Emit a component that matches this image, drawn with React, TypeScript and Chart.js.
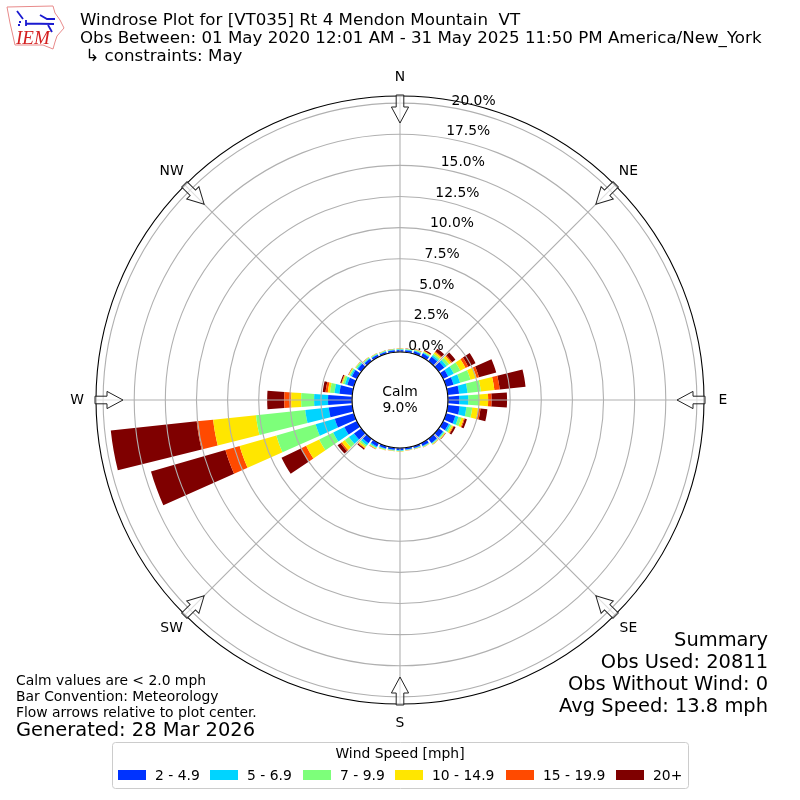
import React, { useEffect, useRef } from "react";
import { Chart, registerables } from "chart.js";

Chart.register(...registerables);

const compass = ["N", "NE", "E", "SE", "S", "SW", "W", "NW"];
const sectorDegrees = [0, 10, 20, 30, 40, 50, 60, 70, 80, 90, 100, 110, 120, 130, 140, 150, 160, 170, 180, 190, 200, 210, 220, 230, 240, 250, 260, 270, 280, 290, 300, 310, 320, 330, 340, 350];
const seriesNames = ["2 - 4.9", "5 - 6.9", "7 - 9.9", "10 - 14.9", "15 - 19.9", "20+"];
const seriesColors = ["#0033ff", "#00d4ff", "#7dff7a", "#ffe600", "#ff4a00", "#7f0000"];
const s2to5 = [0.16, 0.17, 0.22, 0.3, 0.45, 0.55, 0.46, 0.62, 0.92, 0.91, 0.96, 0.77, 0.5, 0.42, 0.42, 0.26, 0.16, 0.15, 0.17, 0.16, 0.2, 0.3, 0.45, 0.72, 1.12, 1.6, 1.9, 1.93, 1.04, 0.55, 0.45, 0.35, 0.24, 0.2, 0.17, 0.16];
const s5to7 = [0.05, 0.05, 0.06, 0.08, 0.15, 0.22, 0.49, 0.55, 0.68, 0.72, 0.55, 0.26, 0.14, 0.08, 0.05, 0.05, 0.04, 0.03, 0.05, 0.04, 0.06, 0.1, 0.2, 0.5, 1.0, 1.6, 1.9, 1.12, 0.4, 0.2, 0.12, 0.09, 0.06, 0.05, 0.05, 0.04];
const s7to10 = [0.04, 0.04, 0.05, 0.07, 0.15, 0.25, 0.58, 0.87, 1.08, 0.88, 0.47, 0.25, 0.14, 0.08, 0.05, 0.04, 0.03, 0.03, 0.04, 0.04, 0.05, 0.06, 0.15, 0.4, 1.25, 3.28, 3.98, 1.04, 0.36, 0.17, 0.1, 0.1, 0.06, 0.05, 0.04, 0.04];
const s10to15 = [0.03, 0.03, 0.05, 0.06, 0.14, 0.2, 0.47, 0.51, 1.09, 0.72, 0.47, 0.2, 0.12, 0.06, 0.05, 0.03, 0.03, 0.02, 0.03, 0.03, 0.04, 0.06, 0.12, 0.3, 1.17, 3.07, 3.46, 0.8, 0.18, 0.08, 0.06, 0.04, 0.04, 0.03, 0.02, 0.02];
const s15to20 = [0.01, 0.01, 0.02, 0.03, 0.08, 0.1, 0.24, 0.2, 0.43, 0.27, 0.2, 0.08, 0.06, 0.03, 0.02, 0.01, 0.01, 0.01, 0.01, 0.01, 0.01, 0.02, 0.06, 0.13, 0.43, 1.19, 1.33, 0.56, 0.18, 0.05, 0.02, 0.01, 0.01, 0.01, 0.01, 0.01];
const s20plus = [0.01, 0.02, 0.02, 0.1, 0.28, 0.33, 0.66, 1.44, 2.09, 1.25, 0.56, 0.18, 0.16, 0.03, 0.01, 0.01, 0.01, 0.01, 0, 0, 0.01, 0.02, 0.1, 0.3, 1.77, 6.22, 6.94, 1.37, 0.23, 0.09, 0.03, 0.01, 0.01, 0.01, 0.01, 0.01];
const allSeries = [s2to5, s5to7, s7to10, s10to15, s15to20, s20plus];
const tickValues = [0, 2.5, 5, 7.5, 10, 12.5, 15, 17.5, 20];
const titleLines = [
  "Windrose Plot for [VT035] Rt 4 Mendon Mountain  VT",
  "Obs Between: 01 May 2020 12:01 AM - 31 May 2025 11:50 PM America/New_York",
  " ↳ constraints: May",
];
const noteLines = ["Calm values are < 2.0 mph", "Bar Convention: Meteorology", "Flow arrows relative to plot center."];
const generated = "Generated: 28 Mar 2026";
const summaryLines = ["Summary", "Obs Used: 20811", "Obs Without Wind: 0", "Avg Speed: 13.8 mph"];
const calmLines = ["Calm", "9.0%"];
const legendTitle = "Wind Speed [mph]";

const FONT = '"DejaVu Sans"';
const SMALL = 13.89;
const TITLE = 16.67;
const LARGE = 19.44;

const stackPlugin = {
  id: "stackSectors",
  afterDatasetsUpdate(chart: any) {
    const scale = chart.scales.r;
    const base = scale.getIndexAngle(0) - Math.PI / 2;
    const half = (4 * Math.PI) / 180;
    const running = sectorDegrees.map(() => 0);
    allSeries.forEach((values, d) => {
      const arcs = chart.getDatasetMeta(d).data;
      values.forEach((v, i) => {
        const mid = base + (sectorDegrees[i] * Math.PI) / 180;
        const arc = arcs[i];
        arc.innerRadius = scale.getDistanceFromCenterForValue(running[i]);
        running[i] += v;
        arc.outerRadius = scale.getDistanceFromCenterForValue(running[i]);
        arc.startAngle = mid - half;
        arc.endAngle = mid + half;
        arc.circumference = half * 2;
      });
    });
  },
};

function text(ctx: any, s: string, x: number, y: number, size: number, align = "left", color = "#000") {
  ctx.font = `${size}px ${FONT}`;
  ctx.textAlign = align;
  ctx.textBaseline = "alphabetic";
  ctx.fillStyle = color;
  ctx.fillText(s, x, y);
}

function drawLogo(ctx: any) {
  ctx.save();
  ctx.strokeStyle = "#e88a8a";
  ctx.lineWidth = 1;
  ctx.beginPath();
  const outline = [[7, 7], [53, 6], [55, 13], [60, 20], [64, 28], [57, 36], [55, 42], [53, 49], [43, 45], [15, 45], [13, 36], [10, 23]];
  outline.forEach(([x, y], i) => (i ? ctx.lineTo(x, y) : ctx.moveTo(x, y)));
  ctx.closePath();
  ctx.stroke();
  ctx.strokeStyle = "#1a1ad0";
  ctx.lineWidth = 1.8;
  ctx.beginPath();
  ctx.moveTo(26, 23.5);
  ctx.lineTo(54, 24);
  ctx.moveTo(26, 20);
  ctx.lineTo(26, 26);
  ctx.moveTo(40, 15);
  ctx.lineTo(47, 19);
  ctx.lineTo(55, 19);
  ctx.moveTo(17, 11);
  ctx.lineTo(23, 19);
  ctx.moveTo(48, 25);
  ctx.lineTo(52, 32);
  ctx.stroke();
  ctx.fillStyle = "#1a1ad0";
  ctx.fillRect(19, 21, 2, 2);
  ctx.fillRect(18, 24, 2, 2);
  ctx.restore();
  ctx.font = 'italic 19px "Liberation Serif"';
  ctx.textAlign = "left";
  ctx.textBaseline = "alphabetic";
  ctx.fillStyle = "#d42020";
  ctx.fillText("IEM", 16, 44);
}

const decoPlugin = {
  id: "windroseDecor",
  afterDraw(chart: any) {
    const { ctx } = chart;
    const scale = chart.scales.r;
    const cx = scale.xCenter;
    const cy = scale.yCenter;
    const outer = scale.drawingArea;
    const inner = scale.getDistanceFromCenterForValue(0);
    ctx.save();

    ctx.beginPath();
    ctx.arc(cx, cy, outer, 0, Math.PI * 2);
    ctx.strokeStyle = "#000";
    ctx.lineWidth = 1.1;
    ctx.stroke();

    ctx.beginPath();
    ctx.arc(cx, cy, inner, 0, Math.PI * 2);
    ctx.fillStyle = "#fff";
    ctx.fill();
    ctx.strokeStyle = "#000";
    ctx.lineWidth = 1.1;
    ctx.stroke();

    text(ctx, calmLines[0], cx, cy - 4, SMALL, "center");
    text(ctx, calmLines[1], cx, cy + 12, SMALL, "center");

    compass.forEach((name, i) => {
      const a = scale.getIndexAngle(i);
      ctx.save();
      ctx.translate(cx, cy);
      ctx.rotate(a);
      ctx.beginPath();
      const pts = [[-3.8, -305], [3.8, -305], [3.8, -293], [8.6, -293], [0, -277], [-8.6, -293], [-3.8, -293]];
      pts.forEach(([x, y], k) => (k ? ctx.lineTo(x, y) : ctx.moveTo(x, y)));
      ctx.closePath();
      ctx.fillStyle = "rgba(255,255,255,0.6)";
      ctx.fill();
      ctx.strokeStyle = "#222";
      ctx.lineWidth = 1;
      ctx.stroke();
      ctx.restore();
      const p = scale.getPointPosition(i, 323);
      ctx.font = `${SMALL}px ${FONT}`;
      ctx.textAlign = "center";
      ctx.textBaseline = "middle";
      ctx.fillStyle = "#000";
      ctx.fillText(name, p.x, p.y);
    });

    const th = (10 * Math.PI) / 180;
    tickValues.forEach((v) => {
      const r = scale.getDistanceFromCenterForValue(v);
      text(ctx, `${v.toFixed(1)}%`, cx + r * Math.sin(th), cy - r * Math.cos(th) - 3, SMALL);
    });

    drawLogo(ctx);
    text(ctx, titleLines[0], 80, 25, TITLE);
    text(ctx, titleLines[1], 80, 43, TITLE);
    text(ctx, titleLines[2], 80, 61, TITLE);

    noteLines.forEach((s, i) => text(ctx, s, 16, 685 + i * 16.2, SMALL));
    text(ctx, generated, 16, 736, LARGE);
    summaryLines.forEach((s, i) => text(ctx, s, 768, 646 + i * 22, LARGE, "right"));

    ctx.beginPath();
    ctx.roundRect(112.5, 742.5, 576, 46, 3);
    ctx.fillStyle = "#fff";
    ctx.fill();
    ctx.strokeStyle = "#ccc";
    ctx.lineWidth = 1;
    ctx.stroke();
    text(ctx, legendTitle, 400, 758, SMALL, "center");
    const swatchX = [118, 210, 303, 395, 506, 616];
    seriesNames.forEach((name, i) => {
      ctx.fillStyle = seriesColors[i];
      ctx.fillRect(swatchX[i], 770, 28, 10);
      text(ctx, name, swatchX[i] + 37, 779.5, SMALL);
    });
    ctx.restore();
  },
};

export default function App() {
  const ref = useRef<HTMLCanvasElement | null>(null);
  useEffect(() => {
    const chart = new Chart(ref.current as HTMLCanvasElement, {
      type: "polarArea",
      data: {
        labels: compass,
        datasets: allSeries.map((values, i) => ({
          label: seriesNames[i],
          data: values,
          backgroundColor: seriesColors[i],
          borderWidth: 0,
        })),
      },
      options: {
        animation: false,
        responsive: false,
        devicePixelRatio: 1,
        layout: { padding: 96 },
        plugins: { legend: { display: false }, tooltip: { enabled: false } },
        scales: {
          r: {
            min: -3.85,
            max: 20.57,
            afterBuildTicks: (s: any) => {
              s.ticks = tickValues.map((value) => ({ value }));
            },
            ticks: { display: false },
            pointLabels: { display: false },
            angleLines: { display: true, color: "#b0b0b0", lineWidth: 1.1 },
            grid: { circular: true, color: "#b0b0b0", lineWidth: 1.1, z: 1 },
          },
        },
      } as any,
      plugins: [stackPlugin, decoPlugin] as any,
    });
    return () => chart.destroy();
  }, []);
  return (
    <div style={{ position: "absolute", left: 0, top: 0, width: 800, height: 800, background: "#fff" }}>
      <canvas ref={ref} width={800} height={800} style={{ display: "block" }} />
    </div>
  );
}
